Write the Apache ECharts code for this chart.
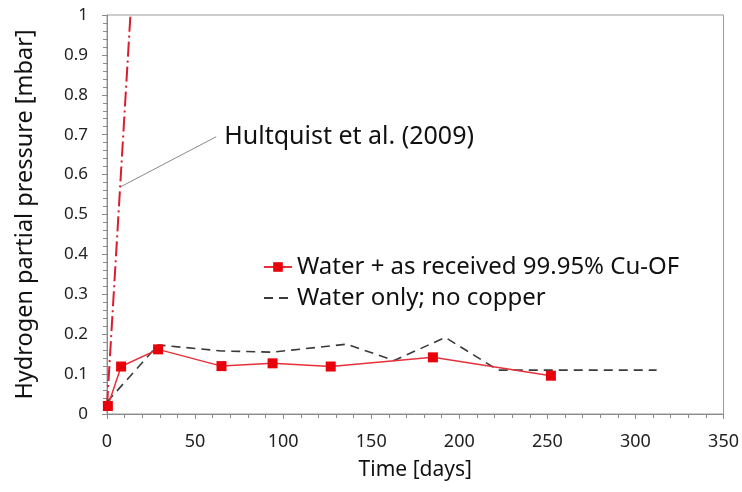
<!DOCTYPE html>
<html><head><meta charset="utf-8">
<script src="https://cdn.jsdelivr.net/npm/echarts@6/dist/echarts.min.js"></script>
<style>html,body{margin:0;padding:0;background:#fff}#c{width:742px;height:492px}</style>
</head><body><div id="c"></div>
<script>
// Red series: Water + as received 99.95% Cu-OF
const cuDays = [0.5, 8, 29, 65, 94, 127, 185, 252];
const cuPressure = [0.02, 0.119, 0.162, 0.12, 0.127, 0.119, 0.142, 0.096];
// Dashed series: Water only; no copper
const waterDays = [0, 29, 65, 94, 136, 163, 192, 222, 312];
const waterPressure = [0.03, 0.173, 0.158, 0.155, 0.175, 0.134, 0.192, 0.110, 0.110];
// Hultquist et al. (2009) reference line
const hultDays = [0, 13.3];
const hultPressure = [0.02, 1.0];
// Annotation connector
const noteDays = [8, 62];
const notePressure = [0.57, 0.695];
const noteText = 'Hultquist et al. (2009)';
const seriesNames = ['Water + as received 99.95% Cu-OF', 'Water only; no copper'];
const xTitle = 'Time [days]';
const yTitle = 'Hydrogen partial pressure [mbar]';

const zip = (a, b) => a.map((v, i) => [v, b[i]]);
const FONT = 'Noto Sans';
const chart = echarts.init(document.getElementById('c'));
chart.setOption({
  animation: false,
  textStyle: {fontFamily: FONT},
  grid: {left: 107, right: 16, top: 15, bottom: 78, show: true, borderColor: '#9a9a9a', borderWidth: 1},
  legend: {
    data: [
      {name: seriesNames[0]},
      {name: seriesNames[1], itemStyle: {opacity: 0}}
    ],
    orient: 'vertical', left: 258, top: 250,
    itemWidth: 28, itemHeight: 12, itemGap: 7,
    textStyle: {fontFamily: FONT, fontSize: 24, color: '#111'}
  },
  xAxis: {
    type: 'value', min: 0, max: 350, interval: 50,
    name: xTitle, nameLocation: 'middle', nameGap: 46,
    nameTextStyle: {fontFamily: FONT, fontSize: 21, color: '#111'},
    axisLine: {lineStyle: {color: '#8a8a8a'}},
    axisTick: {length: 5, lineStyle: {color: '#8a8a8a'}},
    minorTick: {show: true, splitNumber: 5, length: 4, lineStyle: {color: '#8a8a8a'}},
    axisLabel: {fontFamily: FONT, fontSize: 18, color: '#222', margin: 19},
    splitLine: {show: false}
  },
  yAxis: {
    type: 'value', min: 0, max: 1, interval: 0.1,
    name: yTitle, nameLocation: 'middle', nameGap: 70,
    nameTextStyle: {fontFamily: FONT, fontSize: 23.5, color: '#111'},
    axisLine: {show: true, lineStyle: {color: '#8a8a8a'}},
    axisTick: {show: true, length: 5, lineStyle: {color: '#8a8a8a'}},
    minorTick: {show: true, splitNumber: 5, length: 4, lineStyle: {color: '#8a8a8a'}},
    axisLabel: {fontFamily: FONT, fontSize: 17, color: '#222', margin: 19},
    splitLine: {show: false}
  },
  series: [
    {
      name: seriesNames[0], type: 'line', data: zip(cuDays, cuPressure),
      symbol: 'rect', symbolSize: 10, z: 5,
      itemStyle: {color: '#e8000b'},
      lineStyle: {color: '#e8303a', width: 1.5}
    },
    {
      name: seriesNames[1], type: 'line', data: zip(waterDays, waterPressure),
      symbol: 'none', z: 4,
      itemStyle: {color: '#3a3a3a'},
      lineStyle: {color: '#3a3a3a', width: 1.6, type: [9, 6]}
    },
    {
      name: 'Hultquist', type: 'line', data: zip(hultDays, hultPressure),
      symbol: 'none', z: 3,
      lineStyle: {color: '#d81e2e', width: 2, type: [15, 4, 2, 4]}
    },
    {
      name: 'note', type: 'line', z: 2,
      symbol: 'circle', symbolSize: 0, showSymbol: true,
      data: [
        {value: [noteDays[0], notePressure[0]]},
        {value: [noteDays[1], notePressure[1]], label: {show: true, position: 'right', distance: 8, formatter: noteText,
          fontFamily: FONT, fontSize: 25, color: '#111'}}
      ],
      lineStyle: {color: '#8a8a8a', width: 1}
    }
  ]
});
</script></body></html>
